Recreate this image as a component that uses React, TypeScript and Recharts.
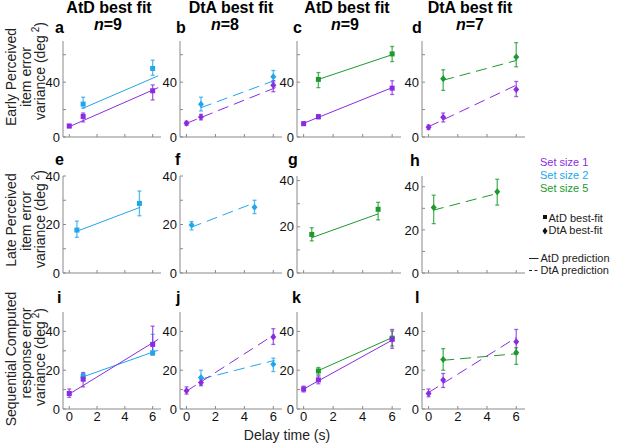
import React from 'react';
import { ComposedChart, Scatter, Line, XAxis, YAxis, ErrorBar } from 'recharts';

const PURPLE = '#8a2be2';
const BLUE = '#21a6ec';
const GREEN = '#1c9a2d';
const AXIS = '#8a8a8a';
const FONT = '"Liberation Sans", Arial, sans-serif';

// delay times (s)
const delays = [0, 1, 6];
const delaysLong = [1, 6];
const lateAtD = [0.55, 5.05];
const lateDtA = [0.35, 4.7];

// x range of each prediction line
const fitT0 = [0, 6];
const fitT1 = [1, 6];
const fitT0Long = [0, 6.4];
const fitT1Long = [1, 6.4];

// a: early perceived, AtD best fit
const aSize1 = [8, 15, 33.7];
const aSize1Err = [[6.8, 9.2], [11, 17.5], [27, 38]];
const aSize2 = [24, 50];
const aSize2Err = [[21, 29], [45, 56]];
const aFit1 = [7.5, 36];
const aFit2 = [21, 44.6];

// b: early perceived, DtA best fit
const bSize1 = [10, 14.5, 37.8];
const bSize1Err = [[8.5, 11.5], [12.5, 16.5], [33, 41]];
const bSize2 = [23.8, 44];
const bSize2Err = [[19, 29], [39.8, 48.5]];
const bFit1 = [10, 36.6];
const bFit2 = [21.4, 42];
const bFitT0 = [0, 6.3];
const bFitT1 = [1, 6.3];

// c: early perceived, AtD best fit
const cSize1 = [9.7, 14.8, 35.6];
const cSize1Err = [[8.5, 11], [13.3, 16.3], [31, 41]];
const cSize5 = [42, 60.6];
const cSize5Err = [[36, 47], [55, 66]];
const cFit1 = [10, 36];
const cFit5 = [42, 60];

// d: early perceived, DtA best fit
const dSize1 = [7.1, 14.4, 34.6];
const dSize1Err = [[5.5, 8.7], [11, 17.5], [29.5, 40.5]];
const dSize5 = [42.4, 58.3];
const dSize5Err = [[34, 49], [51.2, 68.8]];
const dFit1 = [7.5, 37.8];
const dFit5 = [41.4, 55.8];

// e-h: late perceived
const eSize2 = [17.7, 28.7];
const eSize2Err = [[14.7, 21.4], [23.6, 33.8]];
const eFit2 = [17.2, 27.1];
const eFitT = [0.55, 5.1];

const fSize2 = [19.8, 27.1];
const fSize2Err = [[17.8, 21.2], [24.5, 30]];
const fFit2 = [18.8, 28.7];
const fFitT = [0.3, 4.6];

const gSize5 = [16.7, 27.6];
const gSize5Err = [[13.9, 19.6], [23, 30.6]];
const gFit5 = [15.3, 25.6];
const gFitT = [0.55, 5.05];

const hSize5 = [30.4, 37.7];
const hSize5Err = [[22.9, 36.1], [31.5, 43.5]];
const hFit5 = [29.1, 36.9];
const hFitT = [0.3, 4.7];

// i-l: sequential computed response
const iSize1 = [8, 15.4, 33.3];
const iSize1Err = [[6, 10.3], [11.4, 18.8], [28, 42.7]];
const iSize2 = [17, 29];
const iSize2Err = [[14.5, 18.3], [27.8, 38.5]];
const iFit1 = [7.7, 35.9];
const iFit2 = [16.6, 30.3];

const jSize1 = [9.4, 13.7, 37.1];
const jSize1Err = [[7.7, 11.4], [12, 15.4], [33.3, 41.4]];
const jSize2 = [16.2, 23.1];
const jSize2Err = [[12.8, 20], [19.3, 26.2]];
const jFit1 = [9.2, 38.5];
const jFit2 = [15.4, 25.1];
const jFitT0 = [0, 6.1];
const jFitT1 = [1, 6.1];

const kSize1 = [10.3, 15, 35.9];
const kSize1Err = [[8.8, 11.8], [13, 17], [31.3, 41]];
const kSize5 = [19.6, 36.5];
const kSize5Err = [[17.6, 21.4], [32.5, 40.2]];
const kFit1 = [10.3, 35.5];
const kFit5 = [19.8, 36.8];

const lSize1 = [8, 14.9, 34.7];
const lSize1Err = [[6.3, 10.3], [11.1, 18.3], [28.2, 41]];
const lSize5 = [25.5, 29.1];
const lSize5Err = [[20, 31.1], [23, 31.6]];
const lFit1 = [8.5, 36.8];
const lFit5 = [25.1, 28.5];

const earlyTicks = [0, 20, 40, 60];
const earlyLabels = [0, 40];
const lateTicks = [0, 10, 20, 30, 40];
const seqTicks = [0, 10, 20, 30, 40];
const labelTicks = [0, 20, 40];
const delayTicks = [0, 2, 4, 6];

type Pt = { t: number; v: number; err: number[] };
type FitPt = { t: number; v: number };
type Series = { color: string; points: Pt[]; fit: FitPt[] };
type PanelDef = {
  x: number;
  y: number;
  w: number;
  h: number;
  yMax: number;
  yTicks: number[];
  yLabels: number[];
  dta: boolean;
  labels: boolean;
  series: Series[];
};

const pts = (ts: number[], vs: number[], errs: number[][]): Pt[] =>
  ts.map((t, i) => ({ t, v: vs[i], err: [vs[i] - errs[i][0], errs[i][1] - vs[i]] }));
const fit = (ts: number[], vs: number[]): FitPt[] => ts.map((t, i) => ({ t, v: vs[i] }));

const colX = [63, 180, 297, 422];
const colW = [98, 102, 104, 103];
const rowY = [41, 176, 312];
const rowH = [96, 97, 97];

const panels: PanelDef[] = [
  { x: colX[0], y: rowY[0], w: colW[0], h: rowH[0], yMax: 70, yTicks: earlyTicks, yLabels: earlyLabels, dta: false, labels: false, series: [
    { color: BLUE, points: pts(delaysLong, aSize2, aSize2Err), fit: fit(fitT1Long, aFit2) },
    { color: PURPLE, points: pts(delays, aSize1, aSize1Err), fit: fit(fitT0Long, aFit1) },
  ] },
  { x: colX[1], y: rowY[0], w: colW[1], h: rowH[0], yMax: 70, yTicks: earlyTicks, yLabels: earlyLabels, dta: true, labels: false, series: [
    { color: BLUE, points: pts(delaysLong, bSize2, bSize2Err), fit: fit(bFitT1, bFit2) },
    { color: PURPLE, points: pts(delays, bSize1, bSize1Err), fit: fit(bFitT0, bFit1) },
  ] },
  { x: colX[2], y: rowY[0], w: colW[2], h: rowH[0], yMax: 70, yTicks: earlyTicks, yLabels: earlyLabels, dta: false, labels: false, series: [
    { color: GREEN, points: pts(delaysLong, cSize5, cSize5Err), fit: fit(fitT1, cFit5) },
    { color: PURPLE, points: pts(delays, cSize1, cSize1Err), fit: fit(fitT0, cFit1) },
  ] },
  { x: colX[3], y: rowY[0], w: colW[3], h: rowH[0], yMax: 70, yTicks: earlyTicks, yLabels: earlyLabels, dta: true, labels: false, series: [
    { color: GREEN, points: pts(delaysLong, dSize5, dSize5Err), fit: fit(fitT1, dFit5) },
    { color: PURPLE, points: pts(delays, dSize1, dSize1Err), fit: fit(fitT0, dFit1) },
  ] },
  { x: colX[0], y: rowY[1], w: colW[0], h: rowH[1], yMax: 40, yTicks: lateTicks, yLabels: labelTicks, dta: false, labels: false, series: [
    { color: BLUE, points: pts(lateAtD, eSize2, eSize2Err), fit: fit(eFitT, eFit2) },
  ] },
  { x: colX[1], y: rowY[1], w: colW[1], h: rowH[1], yMax: 40, yTicks: lateTicks, yLabels: labelTicks, dta: true, labels: false, series: [
    { color: BLUE, points: pts(lateDtA, fSize2, fSize2Err), fit: fit(fFitT, fFit2) },
  ] },
  { x: colX[2], y: rowY[1], w: colW[2], h: rowH[1], yMax: 42, yTicks: lateTicks, yLabels: labelTicks, dta: false, labels: false, series: [
    { color: GREEN, points: pts(lateAtD, gSize5, gSize5Err), fit: fit(gFitT, gFit5) },
  ] },
  { x: colX[3], y: rowY[1], w: colW[3], h: rowH[1], yMax: 45, yTicks: lateTicks, yLabels: labelTicks, dta: true, labels: false, series: [
    { color: GREEN, points: pts(lateDtA, hSize5, hSize5Err), fit: fit(hFitT, hFit5) },
  ] },
  { x: colX[0], y: rowY[2], w: colW[0], h: rowH[2], yMax: 50, yTicks: seqTicks, yLabels: labelTicks, dta: false, labels: true, series: [
    { color: BLUE, points: pts(delaysLong, iSize2, iSize2Err), fit: fit(fitT1Long, iFit2) },
    { color: PURPLE, points: pts(delays, iSize1, iSize1Err), fit: fit(fitT0Long, iFit1) },
  ] },
  { x: colX[1], y: rowY[2], w: colW[1], h: rowH[2], yMax: 50, yTicks: seqTicks, yLabels: labelTicks, dta: true, labels: true, series: [
    { color: BLUE, points: pts(delaysLong, jSize2, jSize2Err), fit: fit(jFitT1, jFit2) },
    { color: PURPLE, points: pts(delays, jSize1, jSize1Err), fit: fit(jFitT0, jFit1) },
  ] },
  { x: colX[2], y: rowY[2], w: colW[2], h: rowH[2], yMax: 50, yTicks: seqTicks, yLabels: labelTicks, dta: false, labels: true, series: [
    { color: GREEN, points: pts(delaysLong, kSize5, kSize5Err), fit: fit(fitT1, kFit5) },
    { color: PURPLE, points: pts(delays, kSize1, kSize1Err), fit: fit(fitT0, kFit1) },
  ] },
  { x: colX[3], y: rowY[2], w: colW[3], h: rowH[2], yMax: 50, yTicks: seqTicks, yLabels: labelTicks, dta: true, labels: true, series: [
    { color: GREEN, points: pts(delaysLong, lSize5, lSize5Err), fit: fit(fitT1, lFit5) },
    { color: PURPLE, points: pts(delays, lSize1, lSize1Err), fit: fit(fitT0, lFit1) },
  ] },
];

const square = (props: any) => (
  <rect x={props.cx - 2.5} y={props.cy - 2.5} width={5} height={5} fill={props.fill} />
);
const diamond = (props: any) => {
  const { cx, cy } = props;
  return <polygon points={`${cx},${cy - 3.5} ${cx + 3},${cy} ${cx},${cy + 3.5} ${cx - 3},${cy}`} fill={props.fill} />;
};

const tickStyle = { fill: '#111', fontSize: 13, fontFamily: FONT };

function Panel({ p }: { p: PanelDef }) {
  const YW = 30;
  const TOP = 6;
  const RIGHT = 6;
  const XH = p.labels ? 24 : 14;
  return (
    <div style={{ position: 'absolute', left: p.x - YW, top: p.y - TOP }}>
      <ComposedChart
        width={p.w + YW + RIGHT}
        height={p.h + TOP + XH}
        margin={{ top: TOP, right: RIGHT, bottom: 0, left: 0 }}
      >
        <XAxis
          type="number"
          dataKey="t"
          domain={[-0.45, 6.6]}
          ticks={delayTicks}
          interval={0}
          allowDataOverflow
          height={XH}
          tickSize={-3}
          tickMargin={6}
          tickFormatter={p.labels ? (v) => String(v) : () => ''}
          stroke={AXIS}
          tick={tickStyle}
        />
        <YAxis
          type="number"
          dataKey="v"
          domain={[0, p.yMax]}
          ticks={p.yTicks}
          interval={0}
          allowDataOverflow
          width={YW}
          tickSize={-3}
          tickMargin={6}
          tickFormatter={(v) => (p.yLabels.includes(v) ? String(v) : '')}
          stroke={AXIS}
          tick={tickStyle}
        />
        {p.series.map((s, i) => (
          <Line
            key={'fit' + i}
            data={s.fit}
            dataKey="v"
            type="linear"
            stroke={s.color}
            strokeWidth={1}
            strokeDasharray={p.dta ? '11 6' : undefined}
            dot={false}
            activeDot={false}
            isAnimationActive={false}
          />
        ))}
        {p.series.map((s, i) => (
          <Scatter
            key={'pts' + i}
            data={s.points}
            dataKey="v"
            fill={s.color}
            shape={p.dta ? diamond : square}
            isAnimationActive={false}
          >
            <ErrorBar dataKey="err" direction="y" width={2} stroke={s.color} strokeWidth={1.3} strokeOpacity={0.75} />
          </Scatter>
        ))}
      </ComposedChart>
    </div>
  );
}

const titles = [
  { x: 109, fit: 'AtD best fit', n: '9', nx: 108 },
  { x: 231, fit: 'DtA best fit', n: '8', nx: 225 },
  { x: 347, fit: 'AtD best fit', n: '9', nx: 345 },
  { x: 470, fit: 'DtA best fit', n: '7', nx: 470 },
];
const letters = [
  { t: 'a', x: 55, y: 33 }, { t: 'b', x: 176, y: 33 }, { t: 'c', x: 293, y: 33 }, { t: 'd', x: 412, y: 33 },
  { t: 'e', x: 55, y: 165 }, { t: 'f', x: 175, y: 165 }, { t: 'g', x: 288, y: 165 }, { t: 'h', x: 410, y: 166 },
  { t: 'i', x: 57, y: 303 }, { t: 'j', x: 176, y: 303 }, { t: 'k', x: 292, y: 303 }, { t: 'l', x: 415, y: 303 },
];
const rowLabels = [
  { lines: ['Early Perceived', 'item error'], cy: [77, 77], vy: 71 },
  { lines: ['Late Perceived', 'item error'], cy: [220, 221], vy: 219 },
  { lines: ['Sequential Computed', 'response error'], cy: [359, 353], vy: 357 },
];
const legendSizes = [
  { t: 'Set size 1', c: PURPLE },
  { t: 'Set size 2', c: BLUE },
  { t: 'Set size 5', c: GREEN },
];

function Overlay() {
  const rot = (x: number, y: number) => `rotate(-90 ${x} ${y})`;
  return (
    <svg width={617} height={445} style={{ position: 'absolute', left: 0, top: 0, pointerEvents: 'none' }} fontFamily={FONT}>
      {titles.map((t, i) => (
        <g key={i} fontWeight="bold" fontSize={16} textAnchor="middle" fill="#000">
          <text x={t.x} y={13}>{t.fit}</text>
          <text x={t.nx} y={29.5}>
            <tspan fontStyle="italic">n</tspan>={t.n}
          </text>
        </g>
      ))}
      {letters.map((l) => (
        <text key={l.t} x={l.x} y={l.y} fontWeight="bold" fontSize={16} fill="#000">{l.t}</text>
      ))}
      {rowLabels.map((r, i) => (
        <g key={i} fontSize={14} fill="#222" textAnchor="middle">
          <text x={15.5} y={r.cy[0]} transform={rot(15.5, r.cy[0])}>{r.lines[0]}</text>
          <text x={30.5} y={r.cy[1]} transform={rot(30.5, r.cy[1])}>{r.lines[1]}</text>
          <text x={45} y={r.vy} transform={rot(45, r.vy)}>
            variance (deg<tspan dy={-6} fontSize={10}> 2</tspan><tspan dy={6}>)</tspan>
          </text>
        </g>
      ))}
      <text x={287} y={440} fontSize={14} fill="#222" textAnchor="middle">Delay time (s)</text>
      {legendSizes.map((s, i) => (
        <text key={s.t} x={540} y={166 + i * 13} fontSize={11} fill={s.c}>{s.t}</text>
      ))}
      <rect x={543} y={215} width={4} height={4} fill="#111" />
      <text x={548.5} y={221.5} fontSize={11} fill="#222">AtD best-fit</text>
      <polygon points="545,227.5 547.5,231 545,234.5 542.5,231" fill="#111" />
      <text x={548.5} y={234} fontSize={11} fill="#222">DtA best-fit</text>
      <line x1={529} x2={538.5} y1={258.5} y2={258.5} stroke="#222" strokeWidth={1} />
      <text x={540.5} y={262} fontSize={11} fill="#222">AtD prediction</text>
      <line x1={529} x2={538.5} y1={270.5} y2={270.5} stroke="#222" strokeWidth={1} strokeDasharray="3 2.5" />
      <text x={540.5} y={274} fontSize={11} fill="#222">DtA prediction</text>
    </svg>
  );
}

export default function App() {
  return (
    <div style={{ position: 'absolute', left: 0, top: 0, width: 617, height: 445, background: '#fff', overflow: 'hidden' }}>
      {panels.map((p, i) => (
        <Panel key={i} p={p} />
      ))}
      <Overlay />
    </div>
  );
}
